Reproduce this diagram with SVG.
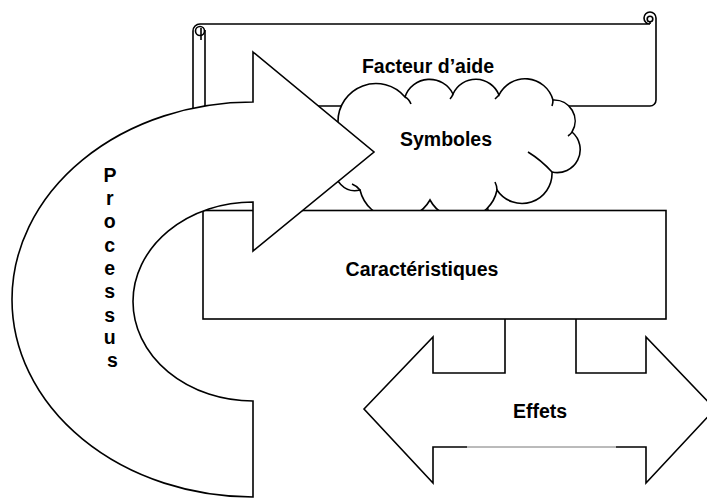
<svg xmlns="http://www.w3.org/2000/svg" width="707" height="498" viewBox="0 0 707 498">
<style>
.s{fill:#fff;stroke:#000;stroke-width:1.6;stroke-linejoin:miter}
.l{fill:none;stroke:#000;stroke-width:1.6}
.t{font-family:"Liberation Sans",Arial,sans-serif;font-weight:bold;font-size:19.5px;fill:#000;text-anchor:middle}
</style>
<rect width="707" height="498" fill="#fff"/>
<g id="facteur">
<path class="s" d="M193,112 V31 A7,7 0 0 1 200,24 H650 A6,6 0 1 1 656,18 V100 A6,6 0 0 1 650,106 H205 V112 Z"/>
<path class="l" d="M205,106 V30"/>
<circle class="l" cx="200" cy="31" r="4.5"/>
<path class="l" d="M201,28 V40"/>
<circle class="l" cx="650" cy="19" r="2.8"/>
<path class="l" d="M650,22 V24"/>
<text class="t" x="428" y="73">Facteur d’aide</text>
</g>
<g id="symboles">
<ellipse class="s" cx="465" cy="210" rx="23" ry="12"/>
<path class="s" d="M338,122 A38,38 0 0 1 405,97 A26,26 0 0 1 453,94 A25,25 0 0 1 499,95 A29,29 0 0 1 553,100 A21,21 0 0 1 572,132 A23,23 0 0 1 552,172 A30,30 0 0 1 497,190 A36,36 0 0 1 430,200 A38,38 0 0 1 360,190 A20,20 0 0 1 336,165 A23,23 0 0 1 338,122 Z"/>
<path class="l" d="M405,97 Q409,99 411,104 M453,94 Q452,97 450,99 M499,95 Q497,97 495,99 M553,100 Q553,103 552,106 M572,132 Q571,134 568,136 M552,172 Q541,160 528,152 M497,190 Q497,186 495,182 M360,190 Q357,186 352,184"/>
<text class="t" x="446" y="146">Symboles</text>
</g>
<g id="effets">
<path class="s" d="M364,409 L433,337 V373 H505 V300 H576 V373 H646 V337 L715,409 L646,483 V447 H433 V483 Z"/>
<path d="M467,447 H616" stroke="#fff" stroke-width="2.4"/>
<path d="M467,447 H616" stroke="#777" stroke-width="1"/>
<text class="t" x="540" y="418">Effets</text>
</g>
<g id="caracteristiques">
<rect class="s" x="203" y="210.5" width="463" height="108.5"/>
<text class="t" x="422" y="276">Caractéristiques</text>
</g>
<g id="processus">
<path class="s" d="M253,52 L374,152 L253,251 V202 A120,99.5 0 0 0 253,401 V497 A241,197.5 0 0 1 253,102 Z"/>
<text class="t">
<tspan x="112.5" y="182">P</tspan>
<tspan x="112.5" y="205">r</tspan>
<tspan x="112.5" y="228">o</tspan>
<tspan x="112.5" y="252">c</tspan>
<tspan x="112.5" y="275">e</tspan>
<tspan x="112.5" y="298">s</tspan>
<tspan x="112.5" y="322">s</tspan>
<tspan x="112.5" y="344">u</tspan>
<tspan x="112.5" y="367">s</tspan>
</text>
</g>
<g id="connectors"></g>
</svg>
